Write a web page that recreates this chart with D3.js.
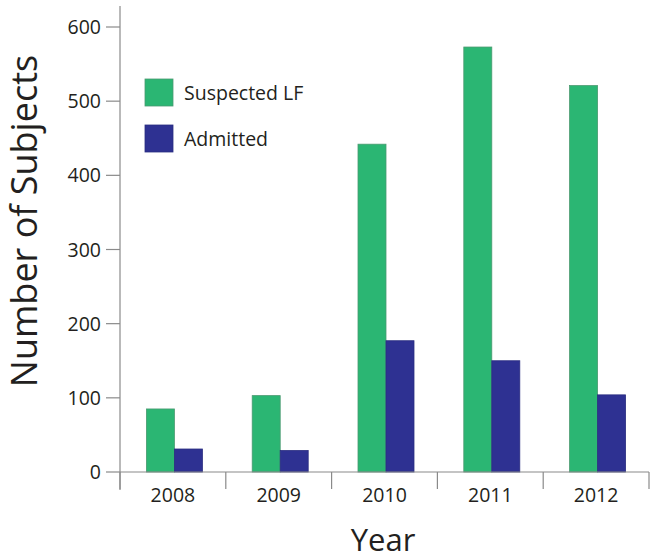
<!DOCTYPE html>
<html>
<head>
<meta charset="utf-8">
<script src="https://cdn.jsdelivr.net/npm/d3@7"></script>
<style>
  body { margin: 0; background: #fff; }
  text { font-family: "Open Sans", "Noto Sans", sans-serif; fill: #231f20; }
</style>
</head>
<body>
<svg id="chart"></svg>
<script>
// Chart data
const years = ["2008", "2009", "2010", "2011", "2012"];
const suspected = [85, 103, 442, 573, 521];
const admitted = [31, 29, 177, 150, 104];
const seriesNames = ["Suspected LF", "Admitted"];
const seriesColors = ["#2bb673", "#2e3192"];
const yTicks = [0, 100, 200, 300, 400, 500, 600];

const width = 656, height = 559;
const plot = { left: 120, right: 649, top: 27, bottom: 472 };

const svg = d3.select("#chart")
    .attr("width", width)
    .attr("height", height);

const x = d3.scaleBand()
    .domain(years)
    .range([plot.left, plot.right]);

const xInner = d3.scaleBand()
    .domain(seriesNames)
    .range([0, 56]);

const y = d3.scaleLinear()
    .domain([0, 600])
    .range([plot.bottom, plot.top]);

const axisColor = "#8a8a8a";

// Bars
const rows = years.map((yr, i) => ({ year: yr, values: [suspected[i], admitted[i]] }));

const groups = svg.selectAll(".year")
    .data(rows)
    .enter()
    .append("g")
    .attr("transform", d => `translate(${x(d.year) + (x.bandwidth() - 56) / 2 + 1.5},0)`);

groups.selectAll("rect")
    .data(d => d.values.map((v, j) => ({ name: seriesNames[j], value: v, color: seriesColors[j] })))
    .enter()
    .append("rect")
    .attr("x", d => xInner(d.name))
    .attr("width", xInner.bandwidth())
    .attr("y", d => y(d.value))
    .attr("height", d => y(0) - y(d.value))
    .attr("fill", d => d.color)
    .attr("stroke", (d, j) => j === 0 ? "#4a9a70" : "#2a2d80")
    .attr("stroke-width", 0.8);

// Y axis
const yAxis = svg.append("g");
yAxis.append("line")
    .attr("x1", plot.left).attr("x2", plot.left)
    .attr("y1", 6).attr("y2", 490)
    .attr("stroke", axisColor).attr("stroke-width", 1.2);

yAxis.selectAll(".ytick")
    .data(yTicks)
    .enter()
    .append("line")
    .attr("x1", plot.left - 14).attr("x2", plot.left)
    .attr("y1", d => y(d)).attr("y2", d => y(d))
    .attr("stroke", axisColor).attr("stroke-width", 1.2);

yAxis.selectAll(".ylabel")
    .data(yTicks)
    .enter()
    .append("text")
    .attr("x", plot.left - 19)
    .attr("y", d => y(d))
    .attr("dy", "0.36em")
    .attr("text-anchor", "end")
    .attr("font-size", 19.5)
    .text(d => d);

// X axis
const xAxis = svg.append("g");
xAxis.append("line")
    .attr("x1", plot.left).attr("x2", plot.right)
    .attr("y1", plot.bottom).attr("y2", plot.bottom)
    .attr("stroke", axisColor).attr("stroke-width", 1.2);

xAxis.selectAll(".xtick")
    .data(years.concat(["end"]))
    .enter()
    .append("line")
    .attr("x1", (d, i) => i < years.length ? x(d) : plot.right)
    .attr("x2", (d, i) => i < years.length ? x(d) : plot.right)
    .attr("y1", plot.bottom)
    .attr("y2", 489)
    .attr("stroke", axisColor).attr("stroke-width", 1.2);

xAxis.selectAll(".xlabel")
    .data(years)
    .enter()
    .append("text")
    .attr("x", d => x(d) + x.bandwidth() / 2)
    .attr("y", 502)
    .attr("text-anchor", "middle")
    .attr("font-size", 19.5)
    .text(d => d);

// Axis titles
svg.append("text")
    .attr("x", 383)
    .attr("y", 551)
    .attr("text-anchor", "middle")
    .attr("font-size", 31)
    .text("Year");

svg.append("text")
    .attr("transform", "translate(37,221) rotate(-90)")
    .attr("text-anchor", "middle")
    .attr("font-size", 36)
    .text("Number of Subjects");

// Legend
const legend = svg.selectAll(".legend")
    .data(seriesNames)
    .enter()
    .append("g")
    .attr("transform", (d, i) => `translate(145,${79 + i * 46})`);

legend.append("rect")
    .attr("width", 28)
    .attr("height", 27)
    .attr("fill", (d, i) => seriesColors[i])
    .attr("stroke", (d, i) => i === 0 ? "#4a9a70" : "#2a2d80")
    .attr("stroke-width", 0.8);

legend.append("text")
    .attr("x", 39)
    .attr("y", 14)
    .attr("dy", "0.36em")
    .attr("font-size", 19.5)
    .text(d => d);
</script>
</body>
</html>
